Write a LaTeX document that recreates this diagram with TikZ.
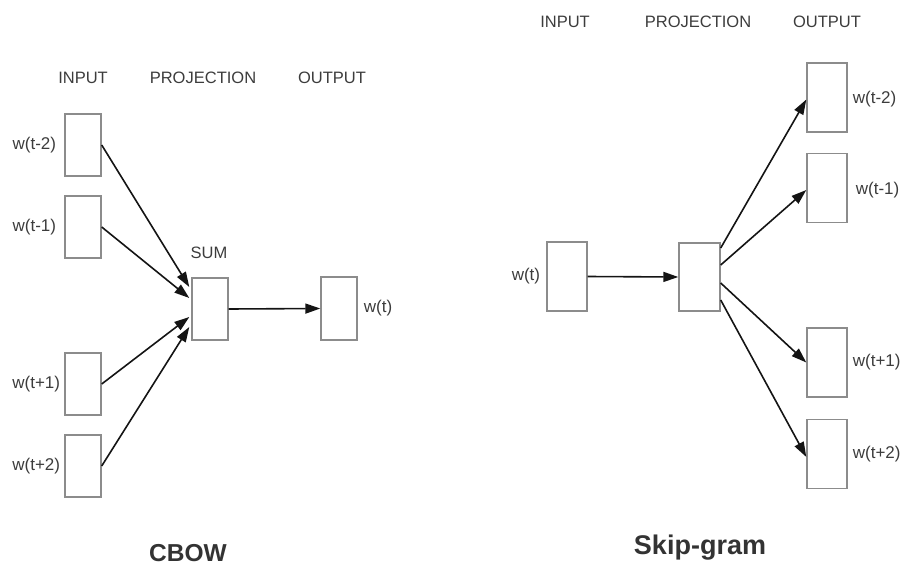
\documentclass[tikz,border=0pt]{standalone}
\usepackage{fontspec}
\setmainfont{Liberation Sans}
\usetikzlibrary{arrows.meta}
\definecolor{boxgray}{HTML}{8C8C8C}
\definecolor{txtgray}{HTML}{3C3C3C}
\definecolor{lnk}{HTML}{141414}
\begin{document}
\begin{tikzpicture}[x=1pt,y=-1pt,
  vec/.style={draw=boxgray,line width=1.4pt,fill=white,rectangle,inner sep=0pt,minimum width=36pt,minimum height=62pt},
  vecb/.style={vec,minimum width=40pt,minimum height=69pt},
  lbl/.style={text=txtgray,font=\fontsize{17}{20}\selectfont,inner sep=0pt},
  hdr/.style={text=txtgray,font=\fontsize{16.5}{19}\selectfont,inner sep=0pt},
  ttl/.style={text=txtgray!85!black,font=\fontsize{24.5}{28}\selectfont\bfseries,inner sep=0pt},
  arr/.style={draw=lnk,line width=1.6pt,-{Triangle[length=15pt,width=10pt]}}]
\useasboundingbox (0,0) rectangle (903,565);
% ---------- CBOW ----------
\node[hdr] (hin) at (83,78) {INPUT};
\node[hdr] (hproj) at (203,78) {PROJECTION};
\node[hdr] (hout) at (332,78) {OUTPUT};
\node[vec] (i1) at (83,145) {};
\node[vec] (i2) at (83,227) {};
\node[vec] (i3) at (83,384) {};
\node[vec] (i4) at (83,466) {};
\node[vec] (sum) at (210,309) {};
\node[vec,minimum height=63pt] (out) at (339,308.5) {};
\node[hdr] (sumlbl) at (209,253) {SUM};
\node[lbl,anchor=east] (l1) at ([xshift=-8pt]i1.west) {w(t-2)};
\node[lbl,anchor=east] (l2) at ([xshift=-8pt]i2.west) {w(t-1)};
\node[lbl,anchor=east] (l3) at ([xshift=-4pt]i3.west) {w(t+1)};
\node[lbl,anchor=east] (l4) at ([xshift=-4pt]i4.west) {w(t+2)};
\node[lbl,anchor=west] (lo) at ([xshift=6pt]out.east) {w(t)};
\draw[arr] (i1.east) -- ([xshift=-2pt,yshift=22pt]sum.west);
\draw[arr] (i2.east) -- ([xshift=-2pt,yshift=11pt]sum.west);
\draw[arr] (i3.east) -- ([xshift=-2pt,yshift=-8pt]sum.west);
\draw[arr] (i4.east) -- ([xshift=-2pt,yshift=-18pt]sum.west);
\draw[arr] (sum.east) -- (out.west);
\node[ttl] (t1) at (188,553) {CBOW};
% ---------- Skip-gram ----------
\node[hdr] (sin) at (565,22) {INPUT};
\node[hdr] (sproj) at (698,22) {PROJECTION};
\node[hdr] (sout) at (827,22) {OUTPUT};
\node[vecb] (sw) at (567,276.5) {};
\node[vecb,minimum width=41pt,minimum height=68pt] (sp) at (699.5,277) {};
\node[vecb] (o1) at (827,97.5) {};
\node[vecb] (o2) at (827,188) {};
\node[vecb] (o3) at (827,362.5) {};
\node[vecb] (o4) at (827,454) {};
\node[lbl,anchor=east] (sl) at ([xshift=-6pt]sw.west) {w(t)};
\node[lbl,anchor=west] (m1) at ([xshift=5pt,yshift=-2pt]o1.east) {w(t-2)};
\node[lbl,anchor=west] (m2) at ([xshift=8pt,yshift=-2pt]o2.east) {w(t-1)};
\node[lbl,anchor=west] (m3) at ([xshift=5pt]o3.east) {w(t+1)};
\node[lbl,anchor=west] (m4) at ([xshift=5pt]o4.east) {w(t+2)};
\draw[arr] (sw.east) -- (sp.west);
\draw[arr] ([yshift=29pt]sp.east) -- ([yshift=-2pt]o1.west);
\draw[arr] ([yshift=12pt]sp.east) -- ([yshift=-2pt]o2.west);
\draw[arr] ([yshift=-6pt]sp.east) -- (o3.west);
\draw[arr] ([yshift=-23pt]sp.east) -- ([yshift=-3pt]o4.west);
\node[ttl,font=\fontsize{27}{31}\selectfont\bfseries] (t2) at (700,548) {Skip-gram};
\end{tikzpicture}
\end{document}
